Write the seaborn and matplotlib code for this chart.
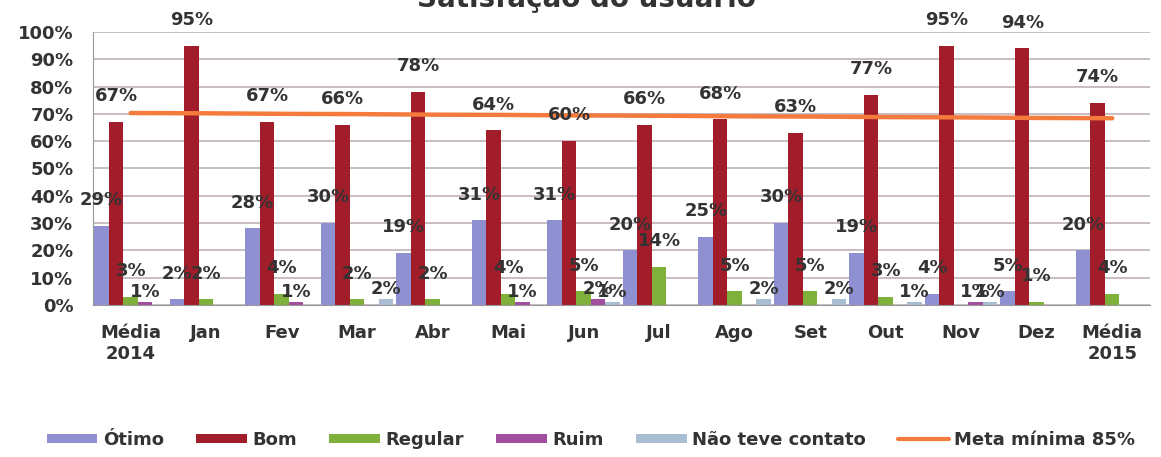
import numpy as np
import pandas as pd
import matplotlib
matplotlib.use('Agg')
import matplotlib.pyplot as plt
import seaborn as sns
from matplotlib.lines import Line2D
from matplotlib.patches import Patch

categorias = ["Média\n2014", "Jan", "Fev", "Mar", "Abr", "Mai", "Jun", "Jul",
              "Ago", "Set", "Out", "Nov", "Dez", "Média\n2015"]
otimo = [29, 2, 28, 30, 19, 31, 31, 20, 25, 30, 19, 4, 5, 20]
bom = [67, 95, 67, 66, 78, 64, 60, 66, 68, 63, 77, 95, 94, 74]
regular = [3, 2, 4, 2, 2, 4, 5, 14, 5, 5, 3, 0, 1, 4]
ruim = [1, 0, 1, 0, 0, 1, 2, 0, 0, 0, 0, 1, 0, 0]
nao_contato = [0, 0, 0, 2, 0, 0, 1, 0, 2, 2, 1, 1, 0, 0]
meta = [70.3, 70.2, 70.0, 69.9, 69.7, 69.6, 69.4, 69.3, 69.1, 69.0, 68.8, 68.7, 68.5, 68.4]

series = ["Ótimo", "Bom", "Regular", "Ruim", "Não teve contato"]
cores = ["#8f90d2", "#a11d2a", "#7fb03c", "#a24e9f", "#a9bdd3"]

df = pd.DataFrame({"Ótimo": otimo, "Bom": bom, "Regular": regular,
                   "Ruim": ruim, "Não teve contato": nao_contato},
                  index=categorias)
longo = df.reset_index(names="mes").melt(id_vars="mes", var_name="serie", value_name="valor")

sns.set_style("white")
plt.rcParams['font.family'] = ['DejaVu Sans']

fig = plt.figure(figsize=(11.61, 4.57), dpi=100)
ax = fig.add_axes([0.080, 0.333, 0.9105, 0.597])

sns.barplot(data=longo, x="mes", y="valor", hue="serie", hue_order=series,
            palette=cores, width=0.96, ax=ax, legend=False,
            edgecolor="none", saturation=1)

# rótulos de dados
offsets = [12, 12, 12, 1, 1]
for cont, off in zip(ax.containers, offsets):
    for barra in cont:
        v = barra.get_height()
        if v <= 0:
            continue
        ax.annotate(f"{v:.0f}%", (barra.get_x() + barra.get_width() / 2, v),
                    xytext=(0, off), textcoords="offset points",
                    ha="center", va="bottom", fontsize=13, fontweight="bold",
                    color="#333333", zorder=5)

# linha da meta
ax.plot(np.arange(len(categorias)), meta, color="#f47b3c", lw=3.2, zorder=4)

ax.set_ylim(0, 100)
ax.set_xlim(-0.5, len(categorias) - 0.5)
ax.set_yticks(np.arange(0, 101, 10))
ax.set_yticklabels([f"{t}%" for t in range(0, 101, 10)])
ax.yaxis.grid(True, color="#bdb2b8", lw=1.2)
ax.set_axisbelow(True)
ax.set_xlabel("")
ax.set_ylabel("")
ax.tick_params(axis="x", length=0, pad=14, labelsize=13, labelcolor="#333333")
ax.tick_params(axis="y", length=5, pad=9, color="#999999", labelsize=13, labelcolor="#333333")
ax.set_xticks(np.arange(-0.5, len(categorias)), minor=True)
ax.tick_params(axis="x", which="minor", length=6, color="#999999")
for lbl in ax.get_xticklabels() + ax.get_yticklabels():
    lbl.set_fontweight("bold")
for s in ["top", "right"]:
    ax.spines[s].set_visible(False)
ax.spines["left"].set_color("#999999")
ax.spines["bottom"].set_color("#999999")

fig.text(0.505, 1 - 7 / 457, "Satisfação do usuário", ha="center", va="baseline",
         fontsize=20, fontweight="bold", color="#333333")

handles = [Patch(facecolor=c, edgecolor="none") for c in cores]
handles.append(Line2D([0], [0], color="#f47b3c", lw=3))
leg = fig.legend(handles, series + ["Meta mínima 85%"], loc="center",
                 bbox_to_anchor=(0.509, 1 - 440 / 457), ncol=6, frameon=False,
                 handlelength=2.8, handleheight=0.45, handletextpad=0.3,
                 columnspacing=1.8,
                 prop={"weight": "bold", "size": 13})
for t in leg.get_texts():
    t.set_color("#333333")

fig.savefig("out.png", dpi=100)
